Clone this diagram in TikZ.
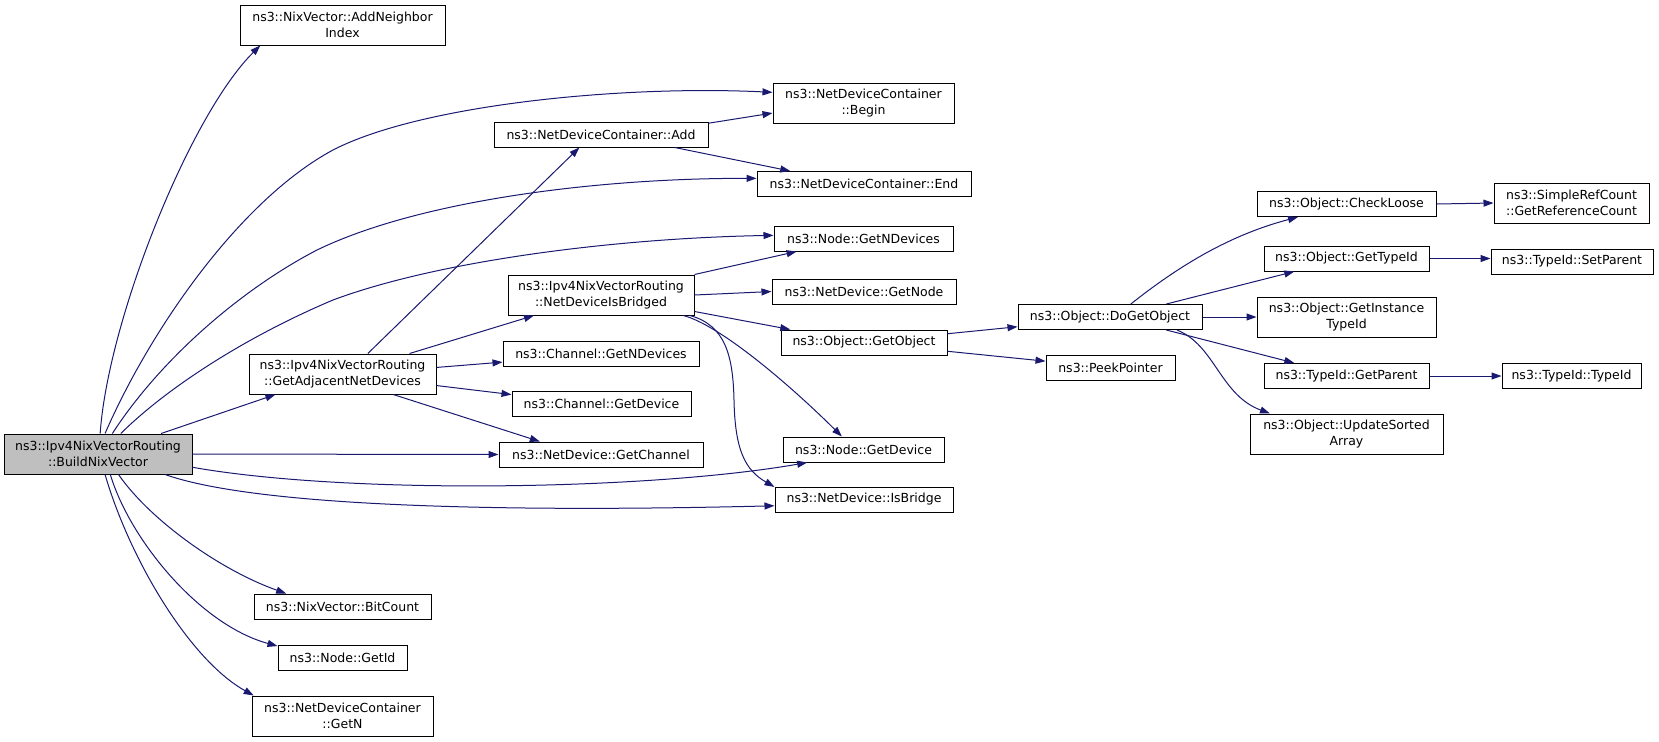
\documentclass[tikz,border=0pt]{standalone}
\usepackage{fontspec}
\setmainfont{DejaVu Sans}
\usetikzlibrary{arrows.meta}
\definecolor{edgeblue}{RGB}{25,25,112}
\definecolor{rootgray}{RGB}{191,191,191}

\begin{document}
\begin{tikzpicture}[x=0.5pt,y=-0.5pt,
   fn/.style={draw=black,fill=white,line width=0.5pt,inner sep=0pt,align=center,minimum height=12.5pt,font=\fontsize{6.25}{8}\selectfont},
   fn2/.style={fn,minimum height=20pt},
   call/.style={draw=edgeblue,line width=0.5pt,-{Triangle[length=5pt,width=3.5pt]}}]
   \useasboundingbox (0,0) rectangle (1659,741);

   \node[fn2,fill=rootgray,minimum width=94pt] (bnv) at (98,454) {ns3::Ipv4NixVectorRouting\\::BuildNixVector};

   \node[fn2,minimum width=102.5pt] (ani) at (342.5,25) {ns3::NixVector::AddNeighbor\\Index};
   \node[fn2,minimum width=93.5pt] (gand) at (342.5,374) {ns3::Ipv4NixVectorRouting\\::GetAdjacentNetDevices};
   \node[fn,minimum width=88.5pt] (bc) at (342.5,606.5) {ns3::NixVector::BitCount};
   \node[fn,minimum width=64.5pt] (gid) at (342.5,657.5) {ns3::Node::GetId};
   \node[fn2,minimum width=90.5pt] (gn) at (342.5,716) {ns3::NetDeviceContainer\\::GetN};

   \node[fn,minimum width=107pt] (add) at (601,134.5) {ns3::NetDeviceContainer::Add};
   \node[fn2,minimum width=93pt] (nib) at (601,295) {ns3::Ipv4NixVectorRouting\\::NetDeviceIsBridged};
   \node[fn,minimum width=98pt] (cgnd) at (601,353.5) {ns3::Channel::GetNDevices};
   \node[fn,minimum width=89.5pt] (cgd) at (601.5,404) {ns3::Channel::GetDevice};
   \node[fn,minimum width=102pt] (ngc) at (601,454.5) {ns3::NetDevice::GetChannel};

   \node[fn2,minimum width=90.5pt] (ndcbegin) at (863.5,103.5) {ns3::NetDeviceContainer\\::Begin};
   \node[fn,minimum width=107pt] (ndcend) at (864,184) {ns3::NetDeviceContainer::End};
   \node[fn,minimum width=89.5pt] (ngnd) at (863.5,238.5) {ns3::Node::GetNDevices};
   \node[fn,minimum width=92pt] (ngnode) at (864,291.5) {ns3::NetDevice::GetNode};
   \node[fn,minimum width=83pt] (ogo) at (864,342.5) {ns3::Object::GetObject};
   \node[fn,minimum width=80.5pt] (ngdev) at (863.5,449.5) {ns3::Node::GetDevice};
   \node[fn,minimum width=89pt] (isb) at (864,499.5) {ns3::NetDevice::IsBridge};

   \node[fn,minimum width=92pt] (dgo) at (1110,317) {ns3::Object::DoGetObject};
   \node[fn,minimum width=64.5pt] (pp) at (1110.5,368) {ns3::PeekPointer};

   \node[fn,minimum width=89.5pt] (cl) at (1346.5,204) {ns3::Object::CheckLoose};
   \node[fn,minimum width=82.5pt] (gti) at (1346.5,258.5) {ns3::Object::GetTypeId};
   \node[fn2,minimum width=89.5pt] (giti) at (1346.5,317) {ns3::Object::GetInstance\\TypeId};
   \node[fn,minimum width=82.5pt] (gp) at (1346.5,376) {ns3::TypeId::GetParent};
   \node[fn2,minimum width=96.5pt] (usa) at (1346.5,434) {ns3::Object::UpdateSorted\\Array};

   \node[fn2,minimum width=77.5pt] (src) at (1571.5,203) {ns3::SimpleRefCount\\::GetReferenceCount};
   \node[fn,minimum width=81pt] (sp) at (1572,261.5) {ns3::TypeId::SetParent};
   \node[fn,minimum width=69.5pt] (tid) at (1571.5,376) {ns3::TypeId::TypeId};

   \draw[call] (bnv.84) .. controls (108,320) and (190,115) .. (ani.194);
   \draw[call] (bnv.71) .. controls (150,330) and (240,200) .. (333,150) .. controls (420,105) and (620,85) .. (ndcbegin.173);
   \draw[call] (bnv.55) .. controls (160,360) and (240,290) .. (317,250) .. controls (420,200) and (600,178) .. (ndcend.177);
   \draw[call] (bnv.42) .. controls (170,385) and (250,335) .. (333,300) .. controls (440,260) and (620,238) .. (ngnd.178);
   \draw[call] (bnv.18) -- (gand.197);
   \draw[call] (bnv.east) -- (ngc.west);
   \draw[call] (bnv.-8) .. controls (350,495) and (650,490) .. (ngdev.193);
   \draw[call] (bnv.-17) .. controls (260,508) and (520,512) .. (isb.184);
   \draw[call] (bnv.-45) .. controls (150,520) and (220,570) .. (bc.167);
   \draw[call] (bnv.-59) .. controls (130,540) and (200,625) .. (gid.170);
   \draw[call] (bnv.-71) .. controls (130,560) and (190,660) .. (gn.167);

   \draw[call] (gand.39) -- (add.211);
   \draw[call] (gand.17) -- (nib.197);
   \draw[call] (gand.4) -- (cgnd.185);
   \draw[call] (gand.-7) -- (cgd.174);
   \draw[call] (gand.-22) -- (ngc.168);

   \draw[call] (add.6) -- (ndcbegin.186);
   \draw[call] (add.-10) -- (ndcend.170);

   \draw[call] (nib.north east) -- (ngnd.191);
   \draw[call] (nib.east) -- (ngnode.west);
   \draw[call] (nib.-10) -- (ogo.170);
   \draw[call] (nib.-14) .. controls (720,325) and (790,385) .. (ngdev.149);
   \draw[call] (nib.-13) .. controls (725,325) and (733,355) .. (734,400) .. controls (735,450) and (745,470) .. (isb.172);

   \draw[call] (ogo.6) -- (dgo.186);
   \draw[call] (ogo.-6) -- (pp.174);

   \draw[call] (dgo.32) .. controls (1180,265) and (1230,235) .. (cl.195);
   \draw[call] (dgo.13) -- (gti.194);
   \draw[call] (dgo.east) -- (giti.west);
   \draw[call] (dgo.-13) -- (gp.166);
   \draw[call] (dgo.-11) .. controls (1215,345) and (1220,395) .. (usa.165);

   \draw[call] (cl.east) -- (src.west);
   \draw[call] (gti.east) -- (gti.east -| sp.west);
   \draw[call] (gp.east) -- (tid.west);

\end{tikzpicture}
\end{document}
